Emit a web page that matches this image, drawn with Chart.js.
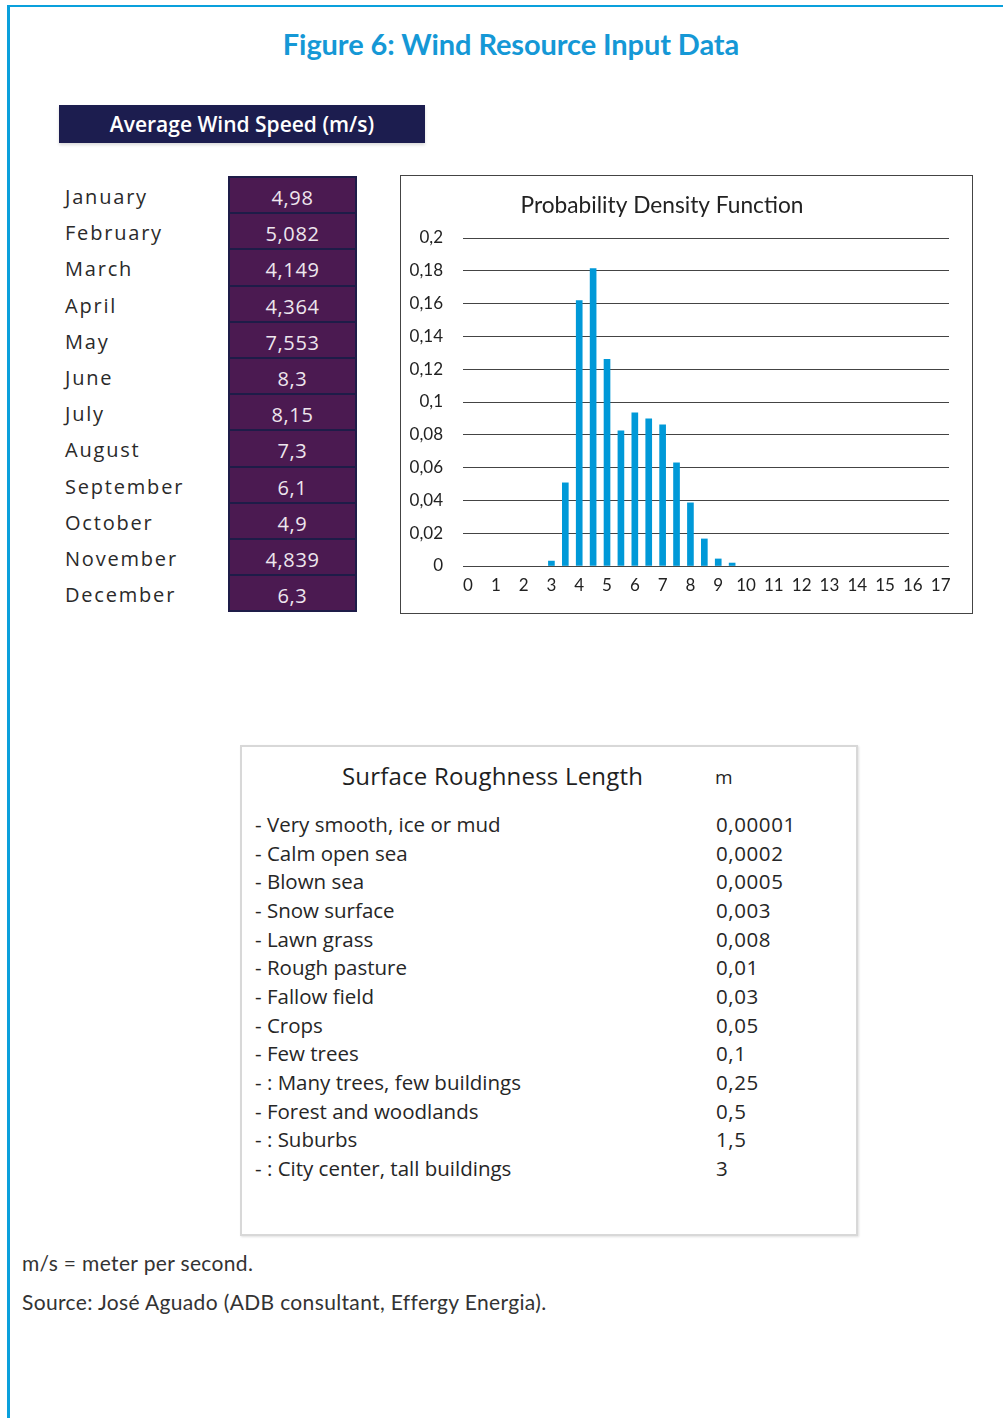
<!DOCTYPE html>
<html>
<head>
<meta charset="utf-8">
<title>Wind Resource Input Data</title>
<script src="https://cdn.jsdelivr.net/npm/chart.js@4.4.1/dist/chart.umd.min.js"></script>
<style>
    body { margin: 0; background: #fff; width: 1003px; height: 1418px; position: relative; overflow: hidden; font-family: Lato, "Noto Sans", sans-serif; color: #222; }
    .frame { position: absolute; left: 7px; top: 5px; right: -10px; bottom: -10px; border-top: 2px solid #0aa0dc; border-left: 3px solid #0aa0dc; }
    .fig-title { position: absolute; left: 0; width: 1022px; top: 26px; text-align: center; font-weight: 700; font-size: 29px; color: #1598d6; letter-spacing: -0.1px; }
    .speed-header { position: absolute; left: 59px; top: 105px; width: 366px; height: 38px; background: #1c1d4f; color: #fff; font-family: "Open Sans", sans-serif; font-weight: 600; font-size: 21px; line-height: 38px; text-align: center; box-shadow: 0 2px 3px rgba(0,0,0,0.15); }
    .months { position: absolute; left: 65px; top: 176px; }
    .months div { height: 36.2px; line-height: 42px; font-family: "Open Sans", sans-serif; font-size: 20px; letter-spacing: 1.8px; color: #2a2a2a; }
    .speeds { position: absolute; left: 228px; top: 176px; width: 125px; border: 2px solid #1e1c48; background: #1e1c48; }
    .speeds div { height: 34.2px; margin-bottom: 2px; background: #4b1a51; color: #eee6ee; text-align: center; line-height: 40px; font-family: "Open Sans", sans-serif; font-size: 20px; letter-spacing: 0.6px; }
    .speeds div:last-child { margin-bottom: 0; }
    .pdf-box { position: absolute; left: 400px; top: 175px; width: 571px; height: 437px; border: 1px solid #444; }
    .pdf-box canvas { position: absolute; left: 0; top: 0; }
    .rough-box { position: absolute; left: 240px; top: 745px; width: 614px; height: 487px; border: 2px solid #d8d8d8; box-shadow: 1px 1px 2px rgba(0,0,0,0.12); }
    .rough-title { position: absolute; left: 100px; top: 12px; font-family: "Open Sans", sans-serif; font-size: 24px; letter-spacing: 0.2px; color: #1f1f1f; }
    .rough-unit { position: absolute; left: 473px; top: 17px; font-family: "Open Sans", sans-serif; font-size: 19px; color: #1f1f1f; }
    .rough-rows { position: absolute; left: 13px; top: 63px; width: 590px; }
    .rough-rows div { height: 28.67px; font-family: "Open Sans", sans-serif; font-size: 20.5px; letter-spacing: 0px; color: #262626; position: relative; }
    .rough-rows span.val { position: absolute; left: 461px; letter-spacing: 0.6px; }
    .notes { position: absolute; left: 22px; top: 1243px; font-size: 21px; letter-spacing: 0.35px; color: #333; line-height: 39px; }
</style>
</head>
<body>
<div class="frame"></div>
<div class="fig-title">Figure 6: Wind Resource Input Data</div>

<div class="speed-header">Average Wind Speed (m/s)</div>
<div class="months" id="months"></div>
<div class="speeds" id="speeds"></div>

<div class="pdf-box"><canvas id="pdf-chart" width="571" height="437"></canvas></div>

<div class="rough-box">
    <div class="rough-title">Surface Roughness Length</div>
    <div class="rough-unit">m</div>
    <div class="rough-rows" id="rough-rows"></div>
</div>

<div class="notes">
    <div>m/s = meter per second.</div>
    <div>Source: José Aguado (ADB consultant, Effergy Energia).</div>
</div>

<script>
// Monthly average wind speed (m/s)
const months = ['January', 'February', 'March', 'April', 'May', 'June', 'July', 'August', 'September', 'October', 'November', 'December'];
const avgWindSpeed = [4.98, 5.082, 4.149, 4.364, 7.553, 8.3, 8.15, 7.3, 6.1, 4.9, 4.839, 6.3];

// Probability density of wind speed, one bar per 0.5 m/s bin
const windBins = [3, 3.5, 4, 4.5, 5, 5.5, 6, 6.5, 7, 7.5, 8, 8.5, 9, 9.5];
const pdfValues = [0.003, 0.0507, 0.1618, 0.1813, 0.126, 0.0824, 0.0934, 0.0897, 0.0861, 0.0629, 0.0385, 0.0165, 0.0043, 0.0018];
const xTickLabels = [0, 1, 2, 3, 4, 5, 6, 7, 8, 9, 10, 11, 12, 13, 14, 15, 16, 17];

// Surface roughness classes and lengths (m)
const surfaceTypes = ['- Very smooth, ice or mud', '- Calm open sea', '- Blown sea', '- Snow surface', '- Lawn grass', '- Rough pasture', '- Fallow field', '- Crops', '- Few trees', '- : Many trees, few buildings', '- Forest and woodlands', '- : Suburbs', '- : City center, tall buildings'];
const roughnessLength = [0.00001, 0.0002, 0.0005, 0.003, 0.008, 0.01, 0.03, 0.05, 0.1, 0.25, 0.5, 1.5, 3];

const decimalComma = v => String(v).replace('.', ',');

// Month / speed table
const monthList = document.getElementById('months');
const speedList = document.getElementById('speeds');
months.forEach((m, i) => {
    const name = document.createElement('div');
    name.textContent = m;
    monthList.appendChild(name);
    const cell = document.createElement('div');
    cell.textContent = decimalComma(avgWindSpeed[i]);
    speedList.appendChild(cell);
});

// Roughness table
const roughRows = document.getElementById('rough-rows');
surfaceTypes.forEach((s, i) => {
    const row = document.createElement('div');
    row.innerHTML = `<span>${s}</span><span class="val">${decimalComma(roughnessLength[i])}</span>`;
    roughRows.appendChild(row);
});

// Chart title sits a little left of centre, like the original sheet
const titlePlugin = {
    id: 'pdfTitle',
    afterDraw(chart) {
        const ctx = chart.ctx;
        ctx.save();
        ctx.font = '22.7px Lato, "Noto Sans", sans-serif';
        ctx.fillStyle = '#222';
        ctx.textAlign = 'center';
        ctx.textBaseline = 'middle';
        ctx.fillText('Probability Density Function', 261, 30);
        ctx.restore();
    }
};

const tickFont = { family: 'Lato, "Noto Sans", sans-serif', size: 17 };

new Chart(document.getElementById('pdf-chart').getContext('2d'), {
    type: 'bar',
    data: {
        datasets: [{
            data: windBins.map((x, i) => ({ x: x, y: pdfValues[i] })),
            backgroundColor: '#0099d8',
            barThickness: 6
        }]
    },
    options: {
        responsive: false,
        animation: false,
        layout: { padding: { top: 62, right: 23, bottom: 0, left: 0 } },
        plugins: { legend: { display: false }, tooltip: { enabled: false } },
        scales: {
            x: {
                type: 'linear',
                offset: false,
                min: -0.18,
                max: 17.3,
                afterBuildTicks: scale => { scale.ticks = xTickLabels.map(v => ({ value: v })); },
                afterFit: scale => { scale.height = 47; },
                grid: { display: false },
                border: { display: false },
                ticks: { font: tickFont, color: '#222', padding: 1, maxRotation: 0, autoSkip: false, callback: v => String(v) }
            },
            y: {
                min: 0,
                max: 0.2,
                afterFit: scale => { scale.width = 62; },
                grid: { color: '#444', lineWidth: 1, drawTicks: false },
                border: { display: false },
                ticks: { stepSize: 0.02, font: tickFont, color: '#222', padding: 20, callback: v => decimalComma(+v.toFixed(2)) }
            }
        }
    },
    plugins: [titlePlugin]
});
</script>
</body>
</html>
